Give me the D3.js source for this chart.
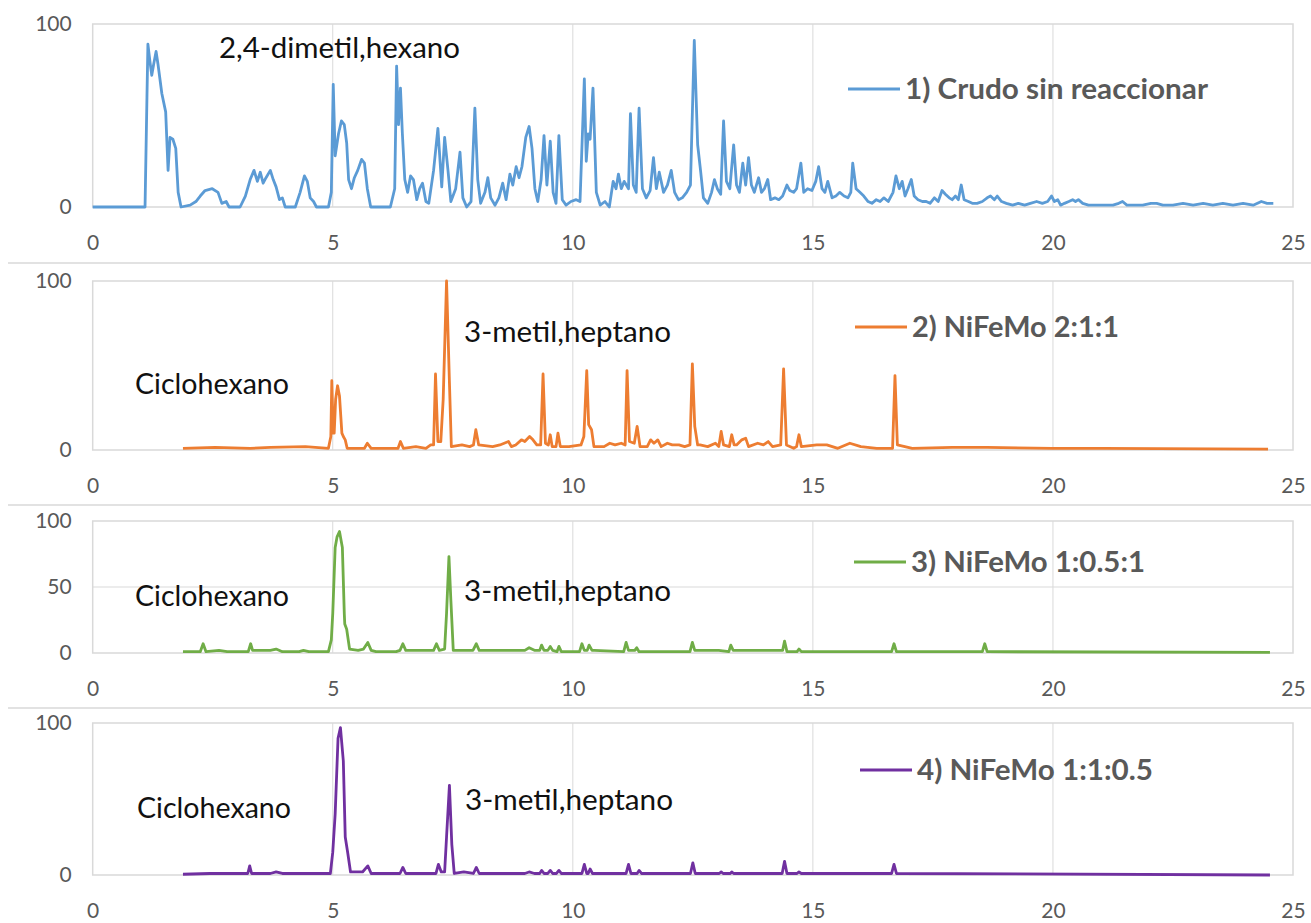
<!DOCTYPE html>
<html>
<head>
<meta charset="utf-8">
<script src="https://cdn.jsdelivr.net/npm/d3@7"></script>
<style>
body{margin:0;background:#fff;}
svg{display:block;font-family:Lato,"Open Sans",sans-serif;}
</style>
</head>
<body>
<div id="chart"></div>
<script>
// Cromatogramas: tiempo de retención (min), abundancia relativa (%)
const crudo = [[0,0],[1.09,0],[1.13,60],[1.15,89],[1.19,80],[1.23,72],[1.27,78],[1.32,85],[1.36,78],[1.44,62],[1.52,52],[1.57,20],[1.61,38],[1.67,37],[1.73,32],[1.78,8],[1.84,0],
[2.03,1],[2.15,3],[2.24,6],[2.34,9],[2.49,10],[2.61,8],[2.69,2],[2.78,3],[2.84,0],[3.07,0],[3.18,6],[3.28,15],[3.36,20],[3.43,14],[3.49,19],[3.55,13],[3.61,16],[3.70,20],[3.76,15],[3.82,11],[3.89,4],[3.95,5],[4.01,0],
[4.22,0],[4.32,8],[4.41,17],[4.47,14],[4.53,5],[4.60,3],[4.66,0],[4.91,0],[4.97,8],[5.01,67],[5.05,28],[5.12,40],[5.18,47],[5.24,45],[5.29,35],[5.33,15],[5.39,10],[5.45,16],[5.52,20],[5.60,26],[5.66,24],[5.72,10],[5.79,0],
[6.20,0],[6.29,10],[6.33,77],[6.37,45],[6.41,65],[6.45,40],[6.50,15],[6.56,8],[6.62,17],[6.68,15],[6.75,4],[6.81,10],[6.87,13],[6.94,3],[7.00,2],[7.10,20],[7.19,43],[7.27,11],[7.33,38],[7.40,20],[7.46,3],[7.56,10],[7.65,30],[7.71,5],[7.79,0],[7.88,3],[7.96,54],
[8.02,15],[8.08,2],[8.17,8],[8.23,16],[8.29,5],[8.38,1],[8.46,5],[8.54,13],[8.61,4],[8.69,18],[8.75,12],[8.82,22],[8.88,16],[8.94,22],[9.02,38],[9.09,44],[9.15,32],[9.21,10],[9.27,3],[9.34,15],[9.40,39],[9.46,12],[9.53,36],[9.59,8],[9.65,2],[9.71,39],[9.78,4],[9.86,1],[9.96,3],
[10.07,4],[10.15,3],[10.24,70],[10.28,25],[10.32,40],[10.36,37],[10.42,65],[10.49,8],[10.57,1],[10.67,3],[10.76,0],[10.84,14],[10.90,10],[10.95,18],[11.01,10],[11.07,14],[11.16,10],[11.20,51],[11.26,12],[11.32,8],[11.38,54],[11.45,10],[11.53,5],[11.61,9],[11.68,27],[11.74,10],[11.80,19],[11.89,8],[11.97,12],
[12.05,20],[12.12,8],[12.20,4],[12.28,5],[12.37,8],[12.45,12],[12.53,91],[12.60,34],[12.66,20],[12.72,5],[12.81,2],[12.89,8],[12.95,15],[13.01,10],[13.08,7],[13.14,47],[13.20,14],[13.27,10],[13.35,34],[13.41,12],[13.47,8],[13.54,24],[13.60,12],[13.66,27],[13.72,12],[13.78,8],[13.87,16],[13.93,8],[13.99,10],
[14.06,15],[14.12,4],[14.21,5],[14.29,4],[14.37,6],[14.46,12],[14.52,9],[14.60,8],[14.66,10],[14.75,24],[14.81,8],[14.89,10],[14.98,9],[15.06,14],[15.12,22],[15.19,10],[15.25,8],[15.31,14],[15.40,5],[15.48,6],[15.56,8],[15.65,6],[15.73,5],[15.79,8],[15.83,24],[15.90,10],[15.98,8],
[16.06,6],[16.15,3],[16.23,2],[16.32,4],[16.40,3],[16.48,5],[16.57,3],[16.67,8],[16.73,17],[16.80,10],[16.86,14],[16.92,6],[16.98,10],[17.05,15],[17.11,6],[17.19,4],[17.28,3],[17.36,3],[17.44,2],[17.53,5],[17.61,3],[17.69,9],[17.76,7],[17.84,5],[17.90,4],[17.97,6],
[18.03,4],[18.09,12],[18.15,4],[18.24,3],[18.32,2],[18.42,2],[18.53,3],[18.63,5],[18.70,6],[18.78,4],[18.84,6],[18.93,3],[19.03,2],[19.16,1],[19.28,2],[19.41,1],[19.53,2],[19.66,3],[19.78,2],[19.89,3],[19.97,6],
[20.03,3],[20.10,4],[20.16,1],[20.24,2],[20.33,3],[20.41,4],[20.47,3],[20.53,4],[20.62,2],[20.74,1],[20.91,1],[21.08,1],[21.25,1],[21.37,2],[21.45,3],[21.54,1],[21.70,1],[21.87,1],[22.04,2],[22.16,2],[22.29,1],[22.50,1],[22.71,2],[22.92,1],[23.13,2],[23.33,1],[23.54,2],[23.75,1],[23.96,2],[24.17,1],[24.34,3],[24.46,2],[24.59,2]];

const nifemo211 = [[1.88,1],[2.55,1.5],[3.28,1],[3.70,1.5],[4.43,2],[4.91,1],[4.96,8],[4.98,41],[5.01,10],[5.03,10],[5.06,30],[5.10,38],[5.14,32],[5.19,10],[5.22,8],[5.26,6],[5.30,1],
[5.58,1],[5.66,1],[5.72,4],[5.80,1],[6.31,1],[6.36,1],[6.41,5],[6.47,1],[6.73,2],[6.94,1],[7.04,3],[7.10,3],[7.14,45],[7.19,5],[7.25,5],[7.30,30],[7.37,100],[7.43,40],[7.47,2],[7.69,3],[7.85,2],[7.93,3],[7.98,12],[8.04,3],
[8.33,2],[8.48,3],[8.66,5],[8.72,2],[8.81,3],[8.93,6],[9.00,5],[9.10,8],[9.17,6],[9.25,3],[9.33,3],[9.38,45],[9.43,4],[9.49,3],[9.53,9],[9.57,2],[9.65,2],[9.69,10],[9.74,2],[9.92,2],
[10.17,3],[10.23,8],[10.29,47],[10.33,15],[10.39,12],[10.44,2],[10.65,2],[10.77,4],[10.88,3],[11.01,4],[11.09,3],[11.13,47],[11.18,5],[11.28,4],[11.34,14],[11.40,2],[11.55,2],[11.62,6],[11.69,4],[11.77,6],[11.84,2],[11.97,4],
[12.07,3],[12.21,3],[12.33,2],[12.44,3],[12.49,51],[12.54,14],[12.60,3],[12.65,3],[12.81,2],[12.97,4],[13.04,2],[13.09,11],[13.14,3],[13.26,2],[13.31,9],[13.36,3],[13.41,3],[13.52,6],[13.60,7],[13.66,2],[13.85,4],[13.97,3],
[14.07,5],[14.16,2],[14.33,3],[14.39,48],[14.45,3],[14.60,1],[14.66,2],[14.71,9],[14.76,2],[15.08,3],[15.29,3],[15.52,1],[15.77,4],[16.00,2],[16.33,1],[16.57,1],[16.66,1],[16.71,44],[16.76,3],
[17.07,1],[17.90,1.5],[18.63,1.5],[19.99,1],[21.04,1],[24.48,0.5]];

const nifemo1051 = [[1.88,1],[2.24,1],[2.30,7],[2.36,1],[2.63,2],[2.80,1],[3.24,1],[3.29,7],[3.33,2],[3.70,2],[3.82,3],[3.95,1],[4.30,1],[4.39,2],[4.50,1],[4.91,1],
[4.97,10],[5.00,30],[5.05,80],[5.09,88],[5.14,92],[5.20,80],[5.24,30],[5.25,22],[5.29,18],[5.35,3],[5.53,2],[5.64,3],[5.73,8],[5.80,2],[5.90,1],
[6.32,1],[6.40,2],[6.46,7],[6.52,2],[6.85,2],[7.10,2],[7.16,7],[7.22,2],[7.33,3],[7.37,30],[7.42,73],[7.46,40],[7.51,2],[7.73,2],[7.92,2],[7.99,7],[8.05,2],
[8.61,2],[9.00,2],[9.09,4],[9.20,2],[9.31,2],[9.35,6],[9.40,2],[9.48,2],[9.53,5],[9.58,2],[9.67,1],[9.71,5],[9.76,1],
[10.14,1],[10.19,7],[10.24,2],[10.30,2],[10.34,6],[10.40,2],[10.45,2],[11.06,1],[11.11,8],[11.16,2],[11.29,2],[11.33,4],[11.38,1],
[12.44,1],[12.49,8],[12.54,2],[13.04,2],[13.25,1],[13.29,6],[13.34,2],[13.95,2],[14.37,2],[14.41,9],[14.46,1],[14.67,1],[14.71,3],[14.76,1],
[16.64,1],[16.69,7],[16.74,1],[18.53,1],[18.58,7],[18.63,1],[24.52,0.5]];

const nifemo1105 = [[1.88,0.5],[2.44,1],[3.18,1],[3.23,1],[3.27,6],[3.31,1],[3.70,1],[3.82,2],[3.95,1],[4.43,1],[4.95,1],
[5.00,15],[5.05,40],[5.11,90],[5.16,97],[5.22,75],[5.26,25],[5.31,15],[5.37,2],[5.62,2],[5.73,6],[5.80,1],
[6.32,1],[6.40,1],[6.46,5],[6.52,1],[6.85,1],[7.15,1],[7.20,7],[7.26,2],[7.33,2],[7.37,25],[7.43,59],[7.48,20],[7.53,1],[7.73,2],[7.93,1],[7.99,5],[8.05,1],
[8.61,1],[9.00,1],[9.09,2],[9.20,1],[9.31,1],[9.35,3],[9.40,1],[9.48,1],[9.53,3],[9.58,1],[9.66,1],[9.71,3],[9.76,1],
[10.19,1],[10.24,7],[10.29,1],[10.32,1],[10.36,4],[10.41,1],[11.11,1],[11.16,7],[11.21,1],[11.34,1],[11.38,3],[11.43,1],
[12.45,1],[12.50,8],[12.55,1],[13.05,1],[13.09,2],[13.13,1],[13.28,1],[13.31,2],[13.35,1],[14.36,1],[14.41,9],[14.46,1],[14.67,1],[14.71,2],[14.76,1],
[16.64,1],[16.69,7],[16.74,1],[24.52,0]];

const series = [crudo, nifemo211, nifemo1051, nifemo1105];
const seriesNames = ["1) Crudo sin reaccionar", "2) NiFeMo 2:1:1", "3) NiFeMo 1:0.5:1", "4) NiFeMo 1:1:0.5"];
const seriesColors = ["#5B9BD5", "#ED7D31", "#70AD47", "#7030A0"];
const xTicks = [0, 5, 10, 15, 20, 25];
const yTicksList = [[0, 100], [0, 100], [0, 50, 100], [0, 100]];
const annotations = [
  ["2,4-dimetil,hexano"],
  ["3-metil,heptano", "Ciclohexano"],
  ["3-metil,heptano", "Ciclohexano"],
  ["3-metil,heptano", "Ciclohexano"]
];

// layout of the four stacked charts
const W = 1311, H = 923;
const left = 92.7, right = 1293;
const panels = [
  {top: 24,  bottom: 207, sep: null, legY: 89,  legX: 848, legW: 303,
   notes: [{x: 219, y: 58, w: 241}]},
  {top: 281, bottom: 450, sep: 263, legY: 327, legX: 855, legW: 207,
   notes: [{x: 464, y: 342, w: 207}, {x: 135, y: 394, w: 154}]},
  {top: 521, bottom: 653, sep: 505, legY: 562, legX: 854, legW: 234,
   notes: [{x: 464, y: 601, w: 207}, {x: 135, y: 606, w: 154}]},
  {top: 723, bottom: 875, sep: 708, legY: 770, legX: 860, legW: 236,
   notes: [{x: 465, y: 810, w: 208}, {x: 137, y: 818, w: 154}]}
];

const grid = "#d9d9d9", labelColor = "#595959";

const svg = d3.select("#chart").append("svg")
  .attr("width", W).attr("height", H);

const x = d3.scaleLinear().domain([0, 25]).range([left, right]);

panels.forEach(function(p, i) {
  const y = d3.scaleLinear().domain([0, 100]).range([p.bottom, p.top]);
  const g = svg.append("g");

  if (p.sep !== null) {
    g.append("line")
      .attr("x1", 8).attr("x2", W)
      .attr("y1", p.sep).attr("y2", p.sep)
      .attr("stroke", grid).attr("stroke-width", 1.5);
  }

  // gridlines
  g.selectAll(".vgrid").data(xTicks.slice(1, -1)).enter().append("line")
    .attr("x1", d => x(d)).attr("x2", d => x(d))
    .attr("y1", p.top).attr("y2", p.bottom)
    .attr("stroke", grid).attr("stroke-width", 1);
  g.selectAll(".hgrid").data(yTicksList[i].slice(1, -1)).enter().append("line")
    .attr("x1", left).attr("x2", right)
    .attr("y1", d => y(d)).attr("y2", d => y(d))
    .attr("stroke", grid).attr("stroke-width", 1);
  g.append("rect")
    .attr("x", left).attr("y", p.top)
    .attr("width", right - left).attr("height", p.bottom - p.top)
    .attr("fill", "none").attr("stroke", grid).attr("stroke-width", 1.5);

  // axes
  const xAxis = g.append("g")
    .attr("transform", "translate(0," + (p.bottom + 28) + ")")
    .call(d3.axisBottom(x).tickValues(xTicks).tickSize(0).tickPadding(0));
  const yAxis = g.append("g")
    .attr("transform", "translate(" + (left - 21) + ",0)")
    .call(d3.axisLeft(y).tickValues(yTicksList[i]).tickSize(0).tickPadding(0));
  [xAxis, yAxis].forEach(function(a) {
    a.select(".domain").remove();
    a.selectAll("text")
      .attr("fill", labelColor)
      .style("font-family", "Lato, sans-serif")
      .style("font-size", "21px");
  });

  // chromatogram line
  const line = d3.line().x(d => x(d[0])).y(d => y(d[1]));
  g.append("path")
    .datum(series[i])
    .attr("d", line)
    .attr("fill", "none")
    .attr("stroke", seriesColors[i])
    .attr("stroke-width", 2.8)
    .attr("stroke-linejoin", "round");

  // legend
  g.append("line")
    .attr("x1", p.legX).attr("x2", p.legX + 52)
    .attr("y1", p.legY).attr("y2", p.legY)
    .attr("stroke", seriesColors[i]).attr("stroke-width", 3);
  g.append("text")
    .attr("x", p.legX + 57).attr("y", p.legY + 10)
    .attr("fill", labelColor)
    .style("font-size", "28px").style("font-weight", "bold")
    .attr("textLength", p.legW).attr("lengthAdjust", "spacingAndGlyphs")
    .text(seriesNames[i]);

  // peak labels
  p.notes.forEach(function(n, k) {
    g.append("text")
      .attr("x", n.x).attr("y", n.y)
      .attr("fill", "#111")
      .style("font-size", "28px")
      .attr("textLength", n.w).attr("lengthAdjust", "spacingAndGlyphs")
      .text(annotations[i][k]);
  });
});
</script>
</body>
</html>
